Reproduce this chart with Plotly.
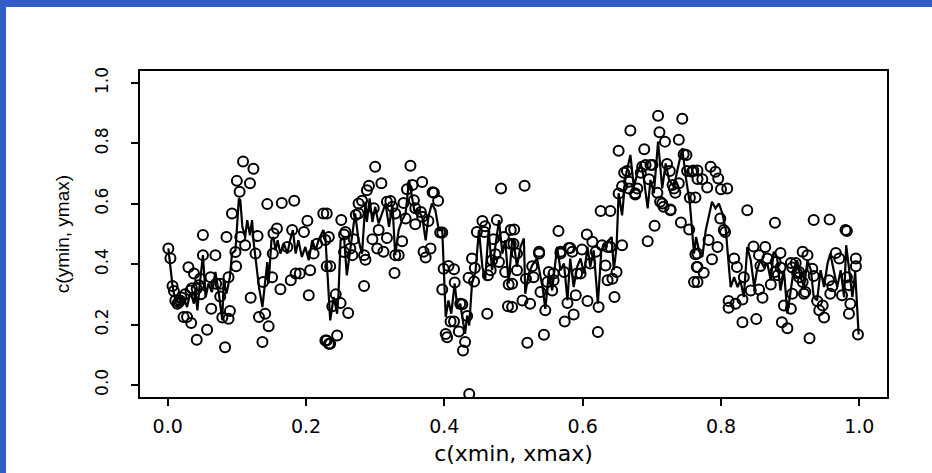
import plotly.graph_objects as go

# ---------------- data ----------------
pts_x = [0.001,0.004,0.007,0.009,0.011,0.014,0.018,0.023,0.028,0.034,0.030,0.038,0.042,0.033,0.042,0.047,
         0.051,0.051,0.057,0.063,0.062,0.069,0.070,0.076,0.076,0.083,0.085,0.079,0.088,0.090,0.088,0.093,
         0.098,0.099,0.104,0.100,0.109,0.119,0.124,0.105,0.112,0.120,0.127,0.132,0.130,0.137,0.141,0.146,
         0.138,0.144,0.151,0.153,0.158,0.165,0.163,0.152,0.173,0.180,0.183,0.178,0.185,0.197,0.202,0.191,
         0.204,0.206,0.211,0.216,0.225,0.228,0.230,0.228,0.233,
         0.016,0.020,0.025,0.035,0.045,0.048,
         0.230,0.233,0.235,0.243,0.250,0.238,0.245,0.235,0.230,0.261,0.251,0.255,0.257,0.255,0.264,0.269,
         0.267,0.272,0.276,0.276,0.281,0.284,0.286,0.284,0.288,0.291,0.300,0.298,0.296,0.303,0.305,0.309,
         0.312,0.317,0.317,0.322,0.325,0.328,0.329,0.334,0.329,0.339,0.341,0.344,0.346,0.351,0.354,0.356,
         0.358,0.358,0.368,0.366,0.368,0.370,0.373,0.377,0.380,0.383,0.385,0.391,0.394,0.397,0.397,0.399,
         0.406,0.414,0.402,0.404,0.409,0.414,0.415,0.421,0.423,0.426,0.430,0.427,0.433,0.435,0.436,0.440,
         0.444,0.443,0.447,0.455,0.459,0.458,0.462,0.463,0.467,0.469,0.471,0.474,0.476,0.479,0.482,0.486,
         0.488,0.492,0.493,0.496,0.496,
         0.501,0.500,0.498,0.498,0.505,0.513,0.516,0.518,0.520,0.524,0.527,0.537,0.539,0.544,0.546,0.551,
         0.556,0.558,0.565,0.568,0.573,0.574,0.578,0.582,0.587,0.590,0.597,0.599,0.606,0.607,0.614,0.622,
         0.623,0.626,0.636,0.640,0.640,0.646,0.649,0.657,0.652,0.652,0.657,0.660,0.664,0.669,0.667,0.676,
         0.679,0.684,0.689,0.691,0.696,0.701,0.694,0.704,0.708,0.709,0.711,0.712,0.717,0.719,0.722,0.726,
         0.727,0.732,0.734,0.739,0.742,0.744,0.746,0.751,0.754,0.755,0.760,0.766,0.763,0.765,0.761,
         0.537,0.580,0.636,0.611,0.592,0.558,0.529,0.505,0.549,0.568,0.585,0.619,0.628,0.633,0.643,0.667,
         0.676,0.686,0.698,0.715,0.727,0.730,0.739,0.750,0.758,
         0.766,0.773,0.785,0.792,0.796,0.780,0.800,0.809,0.763,0.799,0.804,0.806,0.782,0.795,0.766,0.787,
         0.766,0.775,0.766,0.838,0.878,0.934,0.957,0.980,0.982,0.819,0.823,0.833,0.847,0.864,0.855,0.867,
         0.872,0.886,0.878,0.901,0.908,0.918,0.925,0.932,0.934,0.913,0.903,0.922,0.918,0.913,0.966,0.971,
         0.995,0.995,0.982,0.985,0.956,0.961,0.975,0.958,0.811,0.811,0.821,0.831,0.843,0.855,0.860,0.891,
         0.901,0.920,0.939,0.942,0.949,0.947,0.987,0.985,0.831,0.851,0.888,0.896,0.928,0.998,0.910,0.903,
         0.886,0.879,0.882,0.857]
pts_y = [0.452,0.420,0.328,0.311,0.280,0.269,0.280,0.225,0.225,0.205,0.390,0.369,0.150,0.313,0.319,0.352,
         0.497,0.430,0.183,0.252,0.357,0.430,0.335,0.335,0.293,0.125,0.490,0.223,0.219,0.245,0.357,0.568,
         0.440,0.393,0.640,0.676,0.740,0.668,0.716,0.490,0.463,0.289,0.435,0.225,0.493,0.142,0.236,0.194,
         0.341,0.599,0.357,0.502,0.518,0.603,0.317,0.435,0.457,0.513,0.610,0.347,0.369,0.507,0.544,0.369,
         0.297,0.380,0.435,0.468,0.568,0.480,0.393,0.147,0.136,
         0.274,0.290,0.300,0.320,0.330,0.300,
         0.568,0.490,0.393,0.300,0.271,0.261,0.164,0.136,0.147,0.238,0.546,0.498,0.507,0.440,0.452,0.483,
         0.430,0.563,0.568,0.601,0.610,0.328,0.415,0.430,0.645,0.660,0.723,0.585,0.483,0.452,0.513,0.668,
         0.441,0.487,0.607,0.609,0.590,0.371,0.430,0.430,0.568,0.476,0.603,0.551,0.648,0.726,0.662,0.612,
         0.585,0.532,0.672,0.573,0.557,0.441,0.422,0.543,0.452,0.638,0.637,0.610,0.505,0.505,0.316,0.385,
         0.394,0.383,0.169,0.158,0.210,0.210,0.339,0.177,0.269,0.267,0.142,0.114,0.228,0.355,-0.030,0.419,
         0.387,0.343,0.507,0.543,0.526,0.507,0.236,0.363,0.380,0.413,0.483,0.433,0.546,0.407,0.651,0.490,
         0.374,0.261,0.333,0.513,0.468,
         0.515,0.468,0.335,0.258,0.380,0.280,0.660,0.352,0.140,0.269,0.393,0.435,0.308,0.166,0.247,0.374,
         0.313,0.347,0.510,0.435,0.374,0.210,0.271,0.454,0.233,0.297,0.369,0.449,0.498,0.278,0.474,0.175,
         0.258,0.576,0.347,0.576,0.457,0.291,0.374,0.463,0.776,0.634,0.658,0.703,0.709,0.843,0.673,0.631,
         0.651,0.703,0.781,0.729,0.681,0.729,0.476,0.527,0.637,0.892,0.837,0.607,0.590,0.806,0.732,0.709,
         0.581,0.651,0.637,0.812,0.538,0.882,0.764,0.709,0.515,0.620,0.710,0.682,0.433,0.391,0.341,
         0.441,0.454,0.457,0.402,0.369,0.369,0.357,0.435,0.341,0.441,0.441,0.441,0.463,0.396,0.352,0.651,
         0.635,0.723,0.729,0.601,0.579,0.662,0.668,0.762,0.706,
         0.710,0.681,0.723,0.706,0.684,0.654,0.648,0.651,0.621,0.551,0.513,0.507,0.480,0.457,0.435,0.416,
         0.391,0.372,0.341,0.579,0.537,0.546,0.548,0.513,0.510,0.419,0.391,0.357,0.459,0.457,0.430,0.419,
         0.333,0.437,0.374,0.404,0.404,0.441,0.430,0.385,0.361,0.374,0.302,0.308,0.341,0.357,0.437,0.419,
         0.419,0.393,0.357,0.330,0.347,0.327,0.297,0.302,0.278,0.256,0.269,0.283,0.313,0.316,0.289,0.263,
         0.252,0.302,0.278,0.247,0.223,0.263,0.269,0.236,0.208,0.218,0.208,0.188,0.155,0.167,0.371,0.389,
         0.389,0.407,0.363,0.394]

line_x = [0.001,0.007,0.011,0.018,0.023,0.028,0.033,0.038,0.040,0.043,0.046,0.051,0.055,0.059,0.064,0.069,
          0.074,0.079,0.081,0.085,0.090,0.093,0.098,0.103,0.105,0.108,0.112,0.115,0.119,0.122,0.124,0.127,
          0.132,0.137,0.141,0.144,0.146,0.150,0.153,0.156,0.159,0.163,0.168,0.173,0.177,0.181,0.185,0.189,
          0.194,0.199,0.204,0.209,0.214,0.218,0.225,
          0.228,0.235,0.240,0.245,0.247,0.250,0.255,0.259,0.264,0.271,0.276,0.281,0.286,0.288,0.292,0.296,
          0.300,0.305,0.310,0.315,0.320,0.325,0.329,0.334,0.339,0.344,0.349,0.353,0.357,0.362,0.368,0.373,
          0.377,0.382,0.387,0.392,0.397,0.402,0.406,0.410,0.415,0.419,0.423,0.426,0.430,0.433,0.436,0.440,
          0.445,0.450,0.455,0.459,0.464,0.469,0.474,0.479,0.484,0.488,0.493,0.498,
          0.500,0.505,0.510,0.515,0.517,0.522,0.527,0.534,0.542,0.546,0.551,0.556,0.563,0.568,0.573,0.578,
          0.582,0.587,0.592,0.597,0.602,0.607,0.611,0.616,0.622,0.627,0.633,0.638,0.642,0.645,0.649,0.652,
          0.657,0.662,0.669,0.674,0.679,0.684,0.688,0.694,0.698,0.703,0.709,0.715,0.720,0.725,0.732,0.737,
          0.744,0.749,0.755,0.761,0.764,
          0.768,0.773,0.778,0.782,0.787,0.792,0.797,0.802,0.807,0.811,0.814,0.819,0.824,0.828,0.833,0.838,
          0.843,0.848,0.852,0.857,0.862,0.867,0.872,0.876,0.881,0.886,0.891,0.896,0.901,0.905,0.910,0.915,
          0.920,0.925,0.930,0.934,0.939,0.944,0.949,0.954,0.958,0.963,0.968,0.973,0.978,0.981,0.985,0.990,
          0.994,0.999]
line_y = [0.452,0.328,0.280,0.269,0.291,0.258,0.308,0.269,0.313,0.247,0.324,0.430,0.291,0.336,0.308,0.374,
          0.302,0.214,0.347,0.302,0.357,0.435,0.446,0.618,0.612,0.524,0.490,0.546,0.496,0.546,0.479,0.424,
          0.324,0.258,0.347,0.407,0.336,0.479,0.490,0.446,0.479,0.435,0.468,0.435,0.479,0.513,0.435,0.479,
          0.424,0.457,0.413,0.479,0.446,0.479,0.513,
          0.490,0.214,0.291,0.236,0.302,0.479,0.490,0.363,0.446,0.568,0.479,0.435,0.607,0.540,0.618,0.540,
          0.590,0.535,0.568,0.601,0.524,0.596,0.430,0.513,0.546,0.568,0.679,0.623,0.573,0.579,0.557,0.479,
          0.557,0.601,0.579,0.513,0.513,0.225,0.280,0.236,0.336,0.252,0.269,0.225,0.169,0.230,0.197,0.336,
          0.374,0.513,0.391,0.347,0.513,0.380,0.457,0.546,0.435,0.479,0.336,0.479,
          0.479,0.391,0.457,0.485,0.302,0.369,0.396,0.419,0.324,0.252,0.369,0.313,0.457,0.380,0.402,0.280,
          0.419,0.324,0.391,0.419,0.369,0.457,0.391,0.446,0.269,0.446,0.468,0.479,0.490,0.380,0.457,0.635,
          0.562,0.690,0.762,0.656,0.701,0.734,0.690,0.585,0.679,0.635,0.806,0.651,0.734,0.679,0.656,0.712,
          0.784,0.690,0.601,0.435,0.490,
          0.446,0.424,0.513,0.557,0.607,0.585,0.601,0.568,0.513,0.402,0.324,0.357,0.324,0.347,0.291,0.457,
          0.413,0.324,0.380,0.413,0.391,0.402,0.347,0.441,0.424,0.313,0.380,0.236,0.313,0.380,0.413,0.357,
          0.324,0.413,0.380,0.291,0.280,0.380,0.324,0.402,0.435,0.380,0.324,0.380,0.291,0.463,0.380,0.291,
          0.374,0.167]

x_ticks = [0.0, 0.2, 0.4, 0.6, 0.8, 1.0]
x_tick_text = ["0.0", "0.2", "0.4", "0.6", "0.8", "1.0"]
y_ticks = [0.0, 0.2, 0.4, 0.6, 0.8, 1.0]
y_tick_text = ["0.0", "0.2", "0.4", "0.6", "0.8", "1.0"]

FONT_WIDE = "DejaVu Sans, Verdana, sans-serif"
FONT = "Liberation Sans, Arial, Helvetica, sans-serif"
BLUE = "#325DC6"

fig = go.Figure()
fig.add_trace(go.Scatter(x=line_x, y=line_y, mode="lines",
                         line=dict(color="black", width=2.2), hoverinfo="skip"))
fig.add_trace(go.Scatter(x=pts_x, y=pts_y, mode="markers",
                         marker=dict(symbol="circle-open", size=10, color="black",
                                     line=dict(color="black", width=2))))

L, R, T, B = 140, 45, 71, 76
W, H = 932, 473
pw, ph = W - L - R, H - T - B

def px(xp):
    return (xp - L) / pw

def py(yp):
    return (H - B - yp) / ph

fig.update_layout(
    width=W, height=H,
    margin=dict(l=L, r=R, t=T, b=B),
    paper_bgcolor="white", plot_bgcolor="white",
    showlegend=False,
    font=dict(family=FONT, size=14, color="black"),
    xaxis=dict(range=[-0.04, 1.04], tickvals=x_ticks, ticktext=x_tick_text,
               ticks="outside", ticklen=7, tickwidth=2, tickcolor="black",
               tickfont=dict(family=FONT_WIDE, size=19, color="black"),
               showline=True, linecolor="black", linewidth=1.5, mirror=True,
               showgrid=False, zeroline=False, ticklabelstandoff=4,
               title=dict(text="c(xmin, xmax)",
                          font=dict(family=FONT_WIDE, size=22, color="black"), standoff=10)),
    yaxis=dict(range=[-0.04, 1.04], tickvals=y_ticks, ticktext=y_tick_text,
               ticks="outside", ticklen=7, tickwidth=2, tickcolor="black",
               tickangle=-90, tickfont=dict(family=FONT_WIDE, size=17, color="black"),
               showline=True, linecolor="black", linewidth=1.5, mirror=True,
               showgrid=False, zeroline=False, ticklabelstandoff=16,
               title=dict(text="c(ymin, ymax)",
                          font=dict(family=FONT, size=19, color="black"), standoff=18)),
    shapes=[
        dict(type="rect", xref="paper", yref="paper", layer="above",
             x0=px(0), x1=px(6), y0=py(H), y1=py(0),
             fillcolor=BLUE, line=dict(width=0)),
        dict(type="rect", xref="paper", yref="paper", layer="above",
             x0=px(0), x1=px(W), y0=py(7), y1=py(0),
             fillcolor=BLUE, line=dict(width=0)),
    ],
)

fig.write_html("out.html")
